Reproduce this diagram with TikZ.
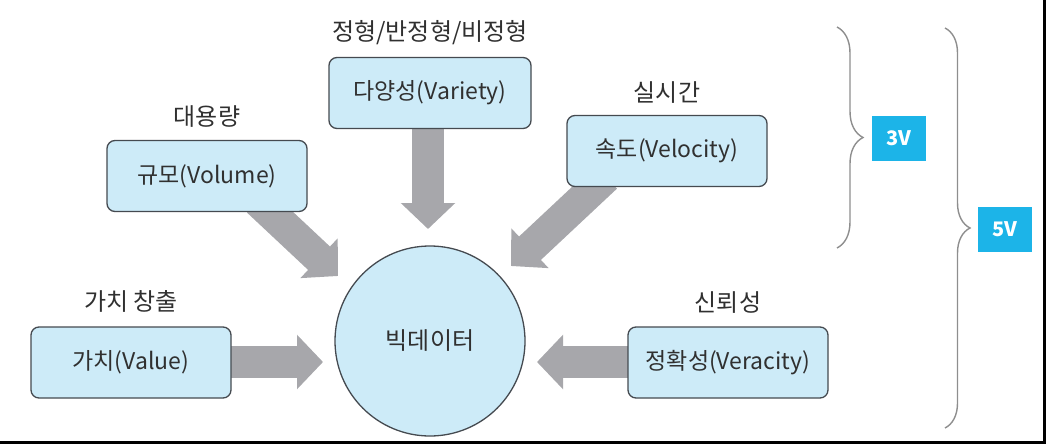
\documentclass[tikz,border=0pt]{standalone}
\usepackage{fontspec}
\setmainfont{Noto Sans CJK KR}
\usetikzlibrary{arrows.meta,backgrounds,decorations.pathreplacing,calc}
\definecolor{boxfill}{HTML}{CDEBF8}
\definecolor{boxline}{HTML}{454A50}
\definecolor{arrowgray}{HTML}{A7A7AB}
\definecolor{bracegray}{HTML}{8E8E8E}
\definecolor{vcyan}{HTML}{1CB4E8}
\definecolor{txt}{HTML}{303030}
\begin{document}
\begin{tikzpicture}[x=1pt,y=-1pt,
  vbox/.style={draw=boxline, line width=1.3pt, fill=boxfill, rounded corners=8pt,
    minimum width=200pt, minimum height=71pt, inner sep=0pt,
    font=\fontsize{23}{27}\selectfont, text=txt},
  lbl/.style={font=\fontsize{24}{28}\selectfont, text=txt, inner sep=0pt},
  fat/.style={draw=arrowgray, line width=32pt, -{Triangle[length=26pt,width=53pt]}},
  brc/.style={draw=bracegray, line width=1.4pt, decorate, decoration={brace, amplitude=26pt}},
  vtag/.style={fill=vcyan, text=white, font=\fontsize{20}{24}\selectfont\bfseries,
    minimum width=54pt, minimum height=45pt, inner sep=0pt}]
\useasboundingbox (0,0) rectangle (1046,444);

% boxes
\node[vbox] (vol) at (207,176) {규모(Volume)};
\node[vbox, minimum width=202pt] (var) at (430,93) {다양성(Variety)};
\node[vbox] (vel) at (667,151) {속도(Velocity)};
\node[vbox] (val) at (131,362.5) {가치(Value)};
\node[vbox] (ver) at (728,362.5) {정확성(Veracity)};
\node[circle, draw=boxline, line width=1.3pt, fill=boxfill, minimum size=190pt, inner sep=0pt,
  font=\fontsize{24}{28}\selectfont, text=txt] (bd) at (430,341) {빅데이터};

% labels
\node[lbl] (volL) at ($(vol.north)+(0,-23)$) {대용량};
\node[lbl] (varL) at ($(var.north)+(0,-24)$) {정형/반정형/비정형};
\node[lbl] (velL) at ($(vel.north)+(0,-22)$) {실시간};
\node[lbl] (valL) at ($(val.north)+(0,-25)$) {가치 창출};
\node[lbl] (verL) at ($(ver.north)+(0,-24)$) {신뢰성};

% arrow end points
\coordinate (volS) at (258,201);
\coordinate (volT) at (338,276);
\coordinate (varS) at (428,120);
\coordinate (varT) at (428,229);
\coordinate (velS) at (606,177);
\coordinate (velT) at (511,266);
\coordinate (valS) at (220,362);
\coordinate (valT) at (323,362);
\coordinate (verS) at (640,362);
\coordinate (verT) at (537,362);

\begin{scope}[on background layer]
  \draw[fat] (volS) -- (volT);
  \draw[fat] (varS) -- (varT);
  \draw[fat] (velS) -- (velT);
  \draw[fat] (valS) -- (valT);
  \draw[fat] (verS) -- (verT);
\end{scope}

% braces and tags
\coordinate (b3t) at (837,27);
\coordinate (b3b) at (837,248);
\coordinate (b5t) at (945,28);
\coordinate (b5b) at (945,428);
\draw[brc] (b3t) -- (b3b);
\draw[brc, decoration={amplitude=25pt}] (b5t) -- (b5b);
\node[vtag] (t3) at (899,138.5) {3V};
\node[vtag] (t5) at (1005,229) {5V};

% frame edges
\fill[black] (1043,0) rectangle (1046,444);
\fill[black] (0,441) rectangle (1046,444);
\end{tikzpicture}
\end{document}
